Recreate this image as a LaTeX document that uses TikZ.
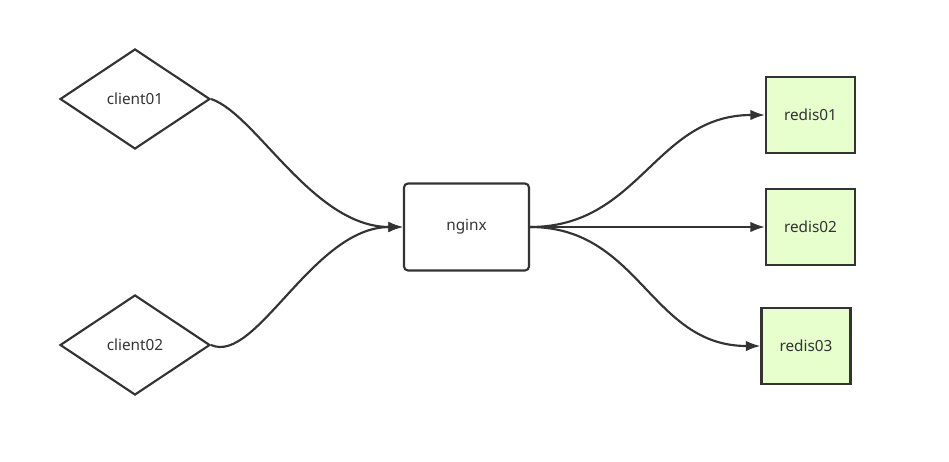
\documentclass[tikz,border=0pt]{standalone}
\usepackage{fontspec}
\setmainfont{Noto Sans}
\usetikzlibrary{shapes.geometric,arrows.meta}

\definecolor{linecol}{HTML}{333333}
\definecolor{redisfill}{HTML}{E6FFCC}

\begin{document}
\begin{tikzpicture}[
    x=0.75pt,y=-0.75pt,
    font=\fontsize{11.5}{13}\selectfont,
    client/.style={diamond,draw=linecol,line width=1.6pt,minimum width=112.5pt,minimum height=75pt,inner sep=0pt,text=linecol},
    proxy/.style={rectangle,draw=linecol,line width=1.6pt,rounded corners=3pt,minimum width=93.75pt,minimum height=65.25pt,text=linecol},
    redis/.style={rectangle,draw=linecol,fill=redisfill,line width=1.6pt,minimum width=66.75pt,minimum height=57pt,text=linecol},
    arrow/.style={draw=linecol,line width=1.6pt,-{Latex[length=11pt,width=8pt]}}
]

\useasboundingbox (0,0) rectangle (949,461);

% Clients
\node[client] (client01) at (135,99) {client01};
\node[client] (client02) at (135,345) {client02};

% Proxy
\node[proxy] (nginx) at (466.5,227) {nginx};

% Redis instances
\node[redis] (redis01) at (810.5,115) {redis01};
\node[redis] (redis02) at (810.5,227) {redis02};
\node[redis] (redis03) at (806,346) {redis03};

% Clients to proxy
\draw[arrow] (client01.east) .. controls +(45,15) and +(-90,0) .. (nginx.west);
\draw[arrow] (client02.east) .. controls +(45,20) and +(-90,0) .. (nginx.west);

% Proxy to redis
\draw[arrow] (nginx.east) .. controls +(110,0) and +(-110,0) .. (redis01.west);
\draw[arrow] (nginx.east) -- (redis02.west);
\draw[arrow] (nginx.east) .. controls +(110,0) and +(-110,0) .. (redis03.west);

\end{tikzpicture}
\end{document}
